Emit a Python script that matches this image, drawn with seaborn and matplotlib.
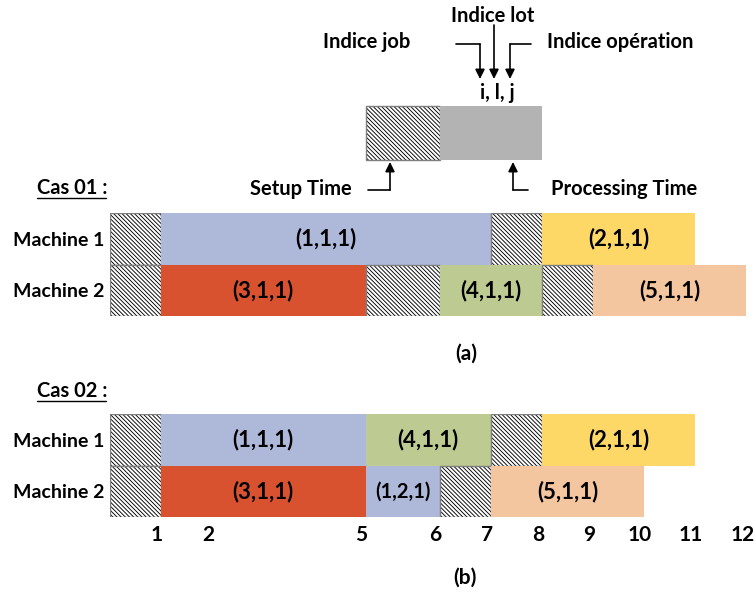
import numpy as np
import pandas as pd
import matplotlib
matplotlib.use("Agg")
import matplotlib.pyplot as plt
import matplotlib.transforms as mtransforms
import seaborn as sns

# ---------------- data ----------------
machines = ["Machine 1", "Machine 2"]
tick_values = [1, 2, 5, 6, 7, 8, 9, 10, 11, 12]

# job 0 = setup time (hatched)
cas01_machine = ["Machine 1"] * 4 + ["Machine 2"] * 6
cas01_job = [0, 1, 0, 2, 0, 3, 0, 4, 0, 5]
cas01_label = ["", "(1,1,1)", "", "(2,1,1)", "", "(3,1,1)", "", "(4,1,1)", "", "(5,1,1)"]
cas01_start = [0, 1, 7, 8, 0, 1, 5, 6, 8, 9]
cas01_end = [1, 7, 8, 11, 1, 5, 6, 8, 9, 12]

cas02_machine = ["Machine 1"] * 5 + ["Machine 2"] * 5
cas02_job = [0, 1, 4, 0, 2, 0, 3, 1, 0, 5]
cas02_label = ["", "(1,1,1)", "(4,1,1)", "", "(2,1,1)", "", "(3,1,1)", "(1,2,1)", "", "(5,1,1)"]
cas02_start = [0, 1, 5, 7, 8, 0, 1, 5, 6, 7]
cas02_end = [1, 5, 7, 8, 11, 1, 5, 6, 7, 10]

job_colors = {1: "#AEB9DA", 2: "#FED866", 3: "#D95230", 4: "#BDCA91", 5: "#F4C6A0"}
legend_gray = "#B3B3B3"

# ---------------- style ----------------
sns.set_theme(style="white")
plt.rcParams["font.family"] = ["Lato", "DejaVu Sans"]
plt.rcParams["hatch.linewidth"] = 0.65
HATCH = "\\" * 8
FONT = dict(fontweight="bold", color="black")

STRETCH = 0.45


def fwd(t):
    t = np.asarray(t, float)
    return t + STRETCH * np.clip(t - 5, 0, 1)


def inv(u):
    u = np.asarray(u, float)
    return np.where(u <= 5, u,
                    np.where(u <= 6 + STRETCH, 5 + (u - 5) / (1 + STRETCH), u - STRETCH))


W, H = 756, 596
fig = plt.figure(figsize=(W / 100, H / 100), dpi=100)


def px_axes(x0, y0, x1, y1):
    return fig.add_axes([x0 / W, 1 - y1 / H, (x1 - x0) / W, (y1 - y0) / H])


ax1 = px_axes(110, 213, 756, 316)
ax2 = px_axes(110, 414, 756, 517)


def draw_case(ax, mach, job, lab, start, end):
    df = pd.DataFrame(dict(machine=mach, job=job, label=lab, start=start, end=end))
    df["dur"] = df["end"] - df["start"]
    for _, r in df.iterrows():
        common = dict(x=[r.dur], y=[r.machine], order=machines, orient="h",
                      width=1.0, errorbar=None, ax=ax, left=r.start, saturation=1)
        if r.job == 0:
            sns.barplot(color="white", hatch=HATCH, edgecolor="black", linewidth=0, **common)
            sns.barplot(color="#7F7F7F", fill=False, linewidth=1.0, **common)
        else:
            sns.barplot(color=job_colors[r.job], linewidth=0, **common)
    ax.set_xscale("function", functions=(fwd, inv))
    ax.set_xlim(0, 12.64 - STRETCH)
    ax.set_ylim(1.5, -0.5)
    for _, r in df.iterrows():
        if r.label:
            xc = float(inv((fwd(r.start) + fwd(r.end)) / 2))
            size = 14.5 if r.label == "(1,2,1)" else 16
            ax.text(xc, machines.index(r.machine), r.label, ha="center", va="center",
                    fontsize=size, **FONT)
    sns.despine(ax=ax, left=True, bottom=True)
    ax.tick_params(length=0)
    ax.set_xlabel("")
    ax.set_ylabel("")
    ax.set_yticks(range(len(machines)))
    ax.set_yticklabels(machines, fontsize=14, **FONT)
    ax.tick_params(axis="y", pad=4)


draw_case(ax1, cas01_machine, cas01_job, cas01_label, cas01_start, cas01_end)
draw_case(ax2, cas02_machine, cas02_job, cas02_label, cas02_start, cas02_end)

ax1.set_xticks([])
ax2.set_xticks(tick_values)
ax2.set_xticklabels([str(v) for v in tick_values], fontsize=15, **FONT)
ax2.tick_params(axis="x", pad=6)
shift = mtransforms.ScaledTranslation(-4 / 100, 0, fig.dpi_scale_trans)
for lbl in ax2.get_xticklabels():
    lbl.set_transform(lbl.get_transform() + shift)

# legend boxes (above case 01, same time scale)
ax1.barh(y=-2.053, width=1, left=5, height=1.05, color="white", hatch=HATCH,
         edgecolor="black", linewidth=0, clip_on=False)
ax1.barh(y=-2.053, width=1, left=5, height=1.05, fill=False,
         edgecolor="#7F7F7F", linewidth=1.0, clip_on=False)
ax1.barh(y=-2.053, width=2, left=6, height=1.05, color=legend_gray,
         linewidth=0, clip_on=False)

# ---------------- annotation overlay ----------------
ov = fig.add_axes([0, 0, 1, 1], facecolor="none")
ov.set_xlim(0, W)
ov.set_ylim(H, 0)
ov.axis("off")

ap = dict(arrowstyle="-|>", color="black", lw=1.2, mutation_scale=14, shrinkA=0, shrinkB=0)
TS = 14.5

ov.text(493, 16, "Indice lot", ha="center", va="center", fontsize=TS, **FONT)
ov.annotate("", xy=(494, 79), xytext=(494, 25), arrowprops=ap)

ov.text(367, 42, "Indice job", ha="center", va="center", fontsize=TS, **FONT)
ov.plot([456, 480], [44, 44], color="black", lw=1.2)
ov.annotate("", xy=(480, 79), xytext=(480, 44), arrowprops=ap)

ov.text(620, 42, "Indice opération", ha="center", va="center", fontsize=TS, **FONT)
ov.plot([531, 510], [44, 44], color="black", lw=1.2)
ov.annotate("", xy=(510, 79), xytext=(510, 44), arrowprops=ap)

ov.text(497, 93, "i, l, j", ha="center", va="center", fontsize=TS, **FONT)

ov.text(301, 189, "Setup Time", ha="center", va="center", fontsize=TS, **FONT)
ov.plot([368, 390], [190, 190], color="black", lw=1.2)
ov.annotate("", xy=(390, 162), xytext=(390, 190), arrowprops=ap)

ov.text(624, 189, "Processing Time", ha="center", va="center", fontsize=TS, **FONT)
ov.plot([528, 513], [190, 190], color="black", lw=1.2)
ov.annotate("", xy=(513, 162), xytext=(513, 190), arrowprops=ap)

ov.text(37, 188, "Cas 01 :", ha="left", va="center", fontsize=TS, **FONT)
ov.plot([37, 106], [198, 198], color="black", lw=1.0)
ov.text(37, 391, "Cas 02 :", ha="left", va="center", fontsize=TS, **FONT)
ov.plot([37, 106], [401, 401], color="black", lw=1.0)

ov.text(466, 354, "(a)", ha="center", va="center", fontsize=15, **FONT)
ov.text(465, 578, "(b)", ha="center", va="center", fontsize=15, **FONT)

fig.savefig("out.png", dpi=100)
